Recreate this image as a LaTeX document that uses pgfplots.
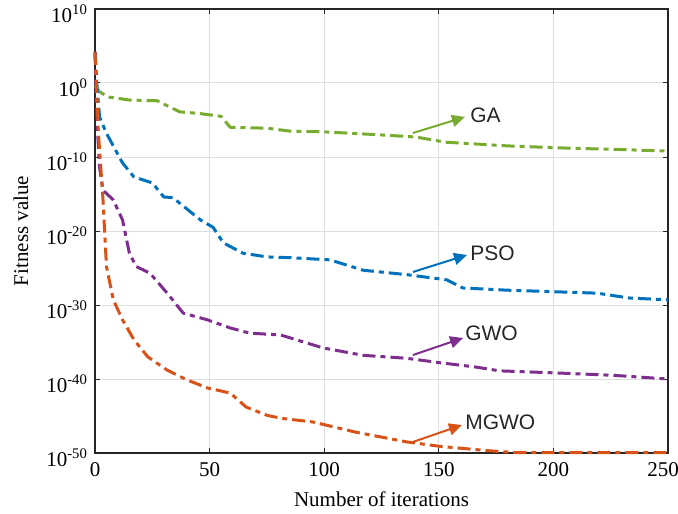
\documentclass[border=0pt]{standalone}
\usepackage{fontspec}
\setmainfont{Liberation Serif}
\newfontfamily\arial{Liberation Sans}
\usepackage{pgfplots}
\pgfplotsset{compat=1.18}
\usetikzlibrary{arrows.meta}
\definecolor{cga}{RGB}{119,172,48}
\definecolor{cpso}{RGB}{0,114,189}
\definecolor{cgwo}{RGB}{126,47,142}
\definecolor{cmg}{RGB}{217,83,25}
\definecolor{axcol}{RGB}{38,38,38}
\definecolor{gridcol}{RGB}{222,222,222}
\begin{document}
\begin{tikzpicture}
\begin{axis}[name=ax, scale only axis, width=286.5pt, height=222pt,
  ymode=log, xmin=0, xmax=250, ymin=1e-50, ymax=1e10,
  xtick={0,50,100,150,200,250}, xticklabels={0,50,100,150,200,\hspace{-5pt}250},
  ytick={1e-50,1e-40,1e-30,1e-20,1e-10,1,1e10},
  yticklabels={10\textsuperscript{-50},10\textsuperscript{-40},10\textsuperscript{-30},10\textsuperscript{-20},10\textsuperscript{-10},10\textsuperscript{0},10\textsuperscript{10}},
  yminorticks=false, xminorticks=false,
  tick align=inside, major tick length=2.5pt,
  ticklabel style={font=\fontsize{10.5}{12}\selectfont, text=black},
  xticklabel style={yshift=-1pt},
  yticklabel style={yshift=-2.5pt},
  grid=major, major grid style={gridcol, line width=0.5pt},
  axis line style={axcol, line width=0.6pt}, tick style={axcol, line width=0.5pt},
  xlabel={Number of iterations}, ylabel={Fitness value},
  label style={font=\fontsize{10.5}{12}\selectfont},
  xlabel style={at={(axis description cs:0.5,0)}, anchor=center, yshift=-23pt},
  ylabel style={at={(axis description cs:0,0.5)}, anchor=center, yshift=37pt},
  clip=false,
  every axis plot/.append style={line width=1.5pt, dash pattern=on 6.5pt off 2.5pt on 2.5pt off 2.5pt, line join=round},
]
% GA
\addplot[cga] coordinates {
(0,3.98e-1) (2,6.3e-2) (6,1.26e-2) (15,5e-3) (27,4e-3) (31,1e-3) (37,1.26e-4)
(45,7.9e-5) (55,3.16e-5) (59,1e-6) (75,7.9e-7) (85,3.16e-7) (100,2.5e-7)
(124,1e-7) (140,5e-8) (153,1e-8) (180,3.16e-9) (206,1.58e-9) (230,1e-9) (250,6.3e-10)
};
% PSO
\addplot[cpso] coordinates {
(0,1.58e4) (1,1e-1) (2,2.5e-5) (5,1.58e-7) (12,1.58e-11) (17,2e-13) (25,3.16e-14)
(30,4e-16) (34,3.16e-16) (46,3.16e-19) (51.5,3.16e-20) (56,2.5e-22) (64.5,1e-23)
(75,3.16e-24) (85,2.5e-24) (102.5,1.26e-24) (117,5e-26) (136,1.26e-26)
(153.5,2.5e-27) (160.5,2e-28) (180,1e-28) (219,4e-29) (233,8.9e-30) (250,5e-30)
};
% GWO
\addplot[cgwo] coordinates {
(0,1.58e4) (1,1.26e-6) (2,3.98e-12) (3.5,3.16e-15) (8,1.58e-16) (12,3.16e-19)
(15,1e-23) (18,1.58e-25) (24,2e-26) (31.5,3.98e-29) (38.5,7.9e-32) (49,1e-32)
(59,7.9e-34) (67.5,1.58e-34) (81,8.9e-35) (99.5,1.58e-36) (117,1.58e-37)
(136,6.3e-38) (150.5,1.58e-38) (166.5,3.98e-39) (176.5,1.26e-39) (203,6.3e-40)
(226,3.16e-40) (250,1e-40)
};
% MGWO
\addplot[cmg] coordinates {
(0,1.58e4) (1.5,1.58e-7) (3.5,1.58e-16) (5,1.58e-25) (8,5e-30) (12,1e-32)
(17,2e-35) (23,1e-37) (31.5,1.58e-39) (40,7.9e-41) (49,6.3e-42) (59,1.26e-42)
(66,1.58e-44) (75,1.26e-45) (81,5e-46) (95,1.58e-46) (114,6.3e-48) (136,3.16e-49)
(150.5,7.9e-50) (172,2e-50) (184,1.12e-50) (250,1.12e-50)
};
% annotations
\draw[cga, line width=1pt, -{Triangle[length=6.5pt,width=6pt]}] (axis cs:138.7,1.74e-7) -- (axis cs:161.4,2.57e-5);
\node[anchor=west, inner sep=0pt, font=\arial\fontsize{10.5}{12}\selectfont, text=black!85] at (axis cs:163.6,4.8e-5) {GA};
\draw[cpso, line width=1pt, -{Triangle[length=6.5pt,width=6pt]}] (axis cs:138.7,2.9e-26) -- (axis cs:162.3,5.8e-24);
\node[anchor=west, inner sep=0pt, font=\arial\fontsize{10.5}{12}\selectfont, text=black!85] at (axis cs:163.6,1.07e-23) {PSO};
\draw[cgwo, line width=1pt, -{Triangle[length=6.5pt,width=6pt]}] (axis cs:138.7,1.74e-37) -- (axis cs:160.6,3.5e-35);
\node[anchor=west, inner sep=0pt, font=\arial\fontsize{10.5}{12}\selectfont, text=black!85] at (axis cs:161.4,1.66e-34) {GWO};
\draw[cmg, line width=1pt, -{Triangle[length=6.5pt,width=6pt]}] (axis cs:138.7,3.1e-49) -- (axis cs:160.1,6.0e-47);
\node[anchor=west, inner sep=0pt, font=\arial\fontsize{10.5}{12}\selectfont, text=black!85] at (axis cs:161.4,1.55e-46) {MGWO};
\end{axis}
\pgfresetboundingbox
\path[use as bounding box] ([shift={(-47.5pt,-30pt)}]ax.south west) rectangle ([shift={(5pt,4.5pt)}]ax.north east);
\end{tikzpicture}
\end{document}
